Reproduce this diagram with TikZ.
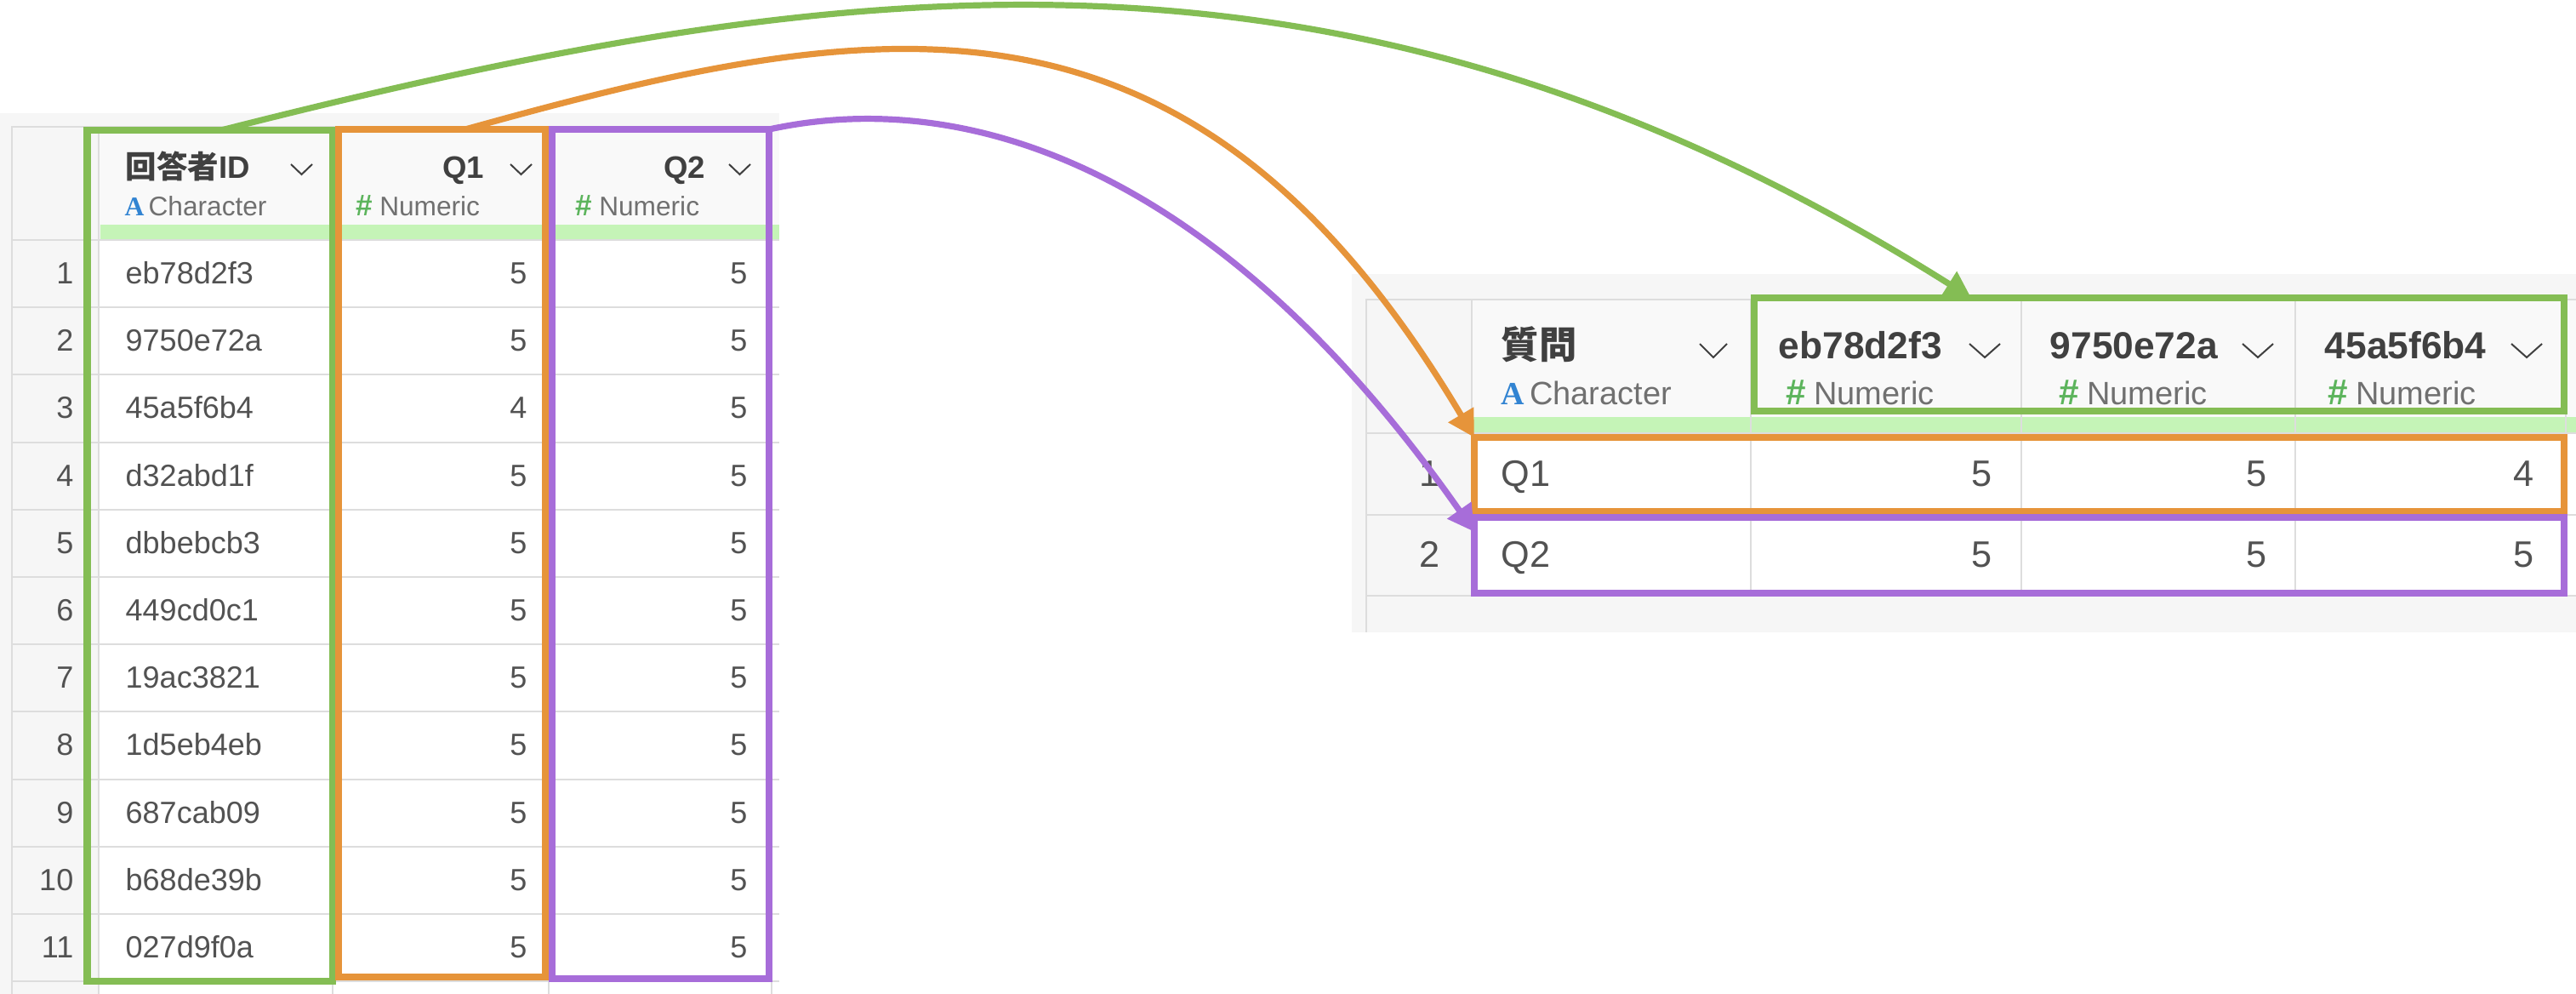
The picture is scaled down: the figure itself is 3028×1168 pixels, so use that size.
\documentclass[tikz,border=0pt]{standalone}
\usepackage{fontspec}
\setmainfont{Liberation Sans}
\newfontfamily\cjk{Noto Sans CJK JP}
\newfontfamily\aserif{Liberation Serif}
\usetikzlibrary{arrows.meta,calc}
\definecolor{gline}{RGB}{132,189,84}
\definecolor{oline}{RGB}{230,148,58}
\definecolor{pline}{RGB}{167,109,217}
\definecolor{stripc}{RGB}{197,244,183}
\definecolor{gridc}{RGB}{221,221,221}
\definecolor{panelc}{RGB}{246,246,246}
\definecolor{hdrc}{RGB}{249,249,249}
\definecolor{txtc}{RGB}{82,82,82}
\definecolor{htxtc}{RGB}{64,64,64}
\definecolor{ttxtc}{RGB}{112,112,112}
\definecolor{ablue}{RGB}{50,132,210}
\definecolor{hgreen}{RGB}{92,180,92}
\newcommand\hashmark{{\color{hgreen}\bfseries\#}}
\newcommand\amark{{\color{ablue}\aserif\bfseries A}}
\begin{document}
\begin{tikzpicture}[x=0.01cm,y=-0.01cm,
  gridline/.style={draw=gridc,line width=0.02cm},
  colbox/.style={draw,line width=0.08cm,inner sep=0pt,outer sep=0pt,anchor=north west},
  conn/.style={line width=0.072cm,-{Triangle[length=0.31cm,width=0.33cm]}},
  chev/.style={draw=htxtc,line width=0.02cm,line join=miter},
  ldata/.style={inner sep=0pt,text=txtc,font=\fontsize{10.24pt}{12pt}\selectfont},
  lhdr/.style={inner sep=0pt,text=htxtc,font=\bfseries\fontsize{10.4pt}{12pt}\selectfont},
  ltype/.style={inner sep=0pt,text=ttxtc,font=\fontsize{9pt}{10pt}\selectfont},
  rdata/.style={inner sep=0pt,text=txtc,font=\fontsize{12.3pt}{14pt}\selectfont},
  rhdr/.style={inner sep=0pt,text=htxtc,font=\bfseries\fontsize{12.6pt}{14pt}\selectfont},
  rtype/.style={inner sep=0pt,text=ttxtc,font=\fontsize{10.8pt}{12pt}\selectfont}]
\useasboundingbox (0,0) rectangle (3028,1168);
% ---------- left table ----------
\fill[panelc] (0,133) rectangle (916,1168);
\fill[hdrc] (116,149) rectangle (916,264);
\fill[stripc] (118,264) rectangle (916,281);
\fill[white] (116,282) rectangle (916,1168);
\draw[gridline] (14,1168) -- (14,149) -- (916,149);
\foreach \xx in {116,391,645,907} \draw[gridline] (\xx,149) -- (\xx,1168);
\foreach \k in {0,...,11} \draw[gridline] (14,{282+\k*79.2}) -- (916,{282+\k*79.2});
\node[lhdr,anchor=base west] (lh1) at (147,210) {{\cjk 回答者}ID};
\node[lhdr,anchor=base east] (lh2) at (570,210) {Q1};
\node[lhdr,anchor=base east] (lh3) at (830,210) {Q2};
\draw[chev] (342,193) -- (354.5,205) -- (367,193);
\draw[chev] (600,193) -- (612.5,205) -- (625,193);
\draw[chev] (857,193) -- (869.5,205) -- (882,193);
\node[ltype,anchor=base west] (lt1) at (146,254) {\amark\hspace{0.05cm}Character};
\node[ltype,anchor=base west] (lt2) at (418,254) {{\fontsize{10pt}{10pt}\selectfont\hashmark}\hspace{0.08cm}Numeric};
\node[ltype,anchor=base west] (lt3) at (676,254) {{\fontsize{10pt}{10pt}\selectfont\hashmark}\hspace{0.08cm}Numeric};
\foreach \i/\id/\va/\vb in {1/eb78d2f3/5/5,2/9750e72a/5/5,3/45a5f6b4/4/5,4/d32abd1f/5/5,5/dbbebcb3/5/5,6/449cd0c1/5/5,7/19ac3821/5/5,8/1d5eb4eb/5/5,9/687cab09/5/5,10/b68de39b/5/5,11/027d9f0a/5/5}{
  \node[ldata,anchor=base east] (lr\i) at (87,{282+(\i-0.5)*79.2+12}) {\i};
  \node[ldata,anchor=base west] (lid\i) at (147,{282+(\i-0.5)*79.2+12}) {\id};
  \node[ldata,anchor=base east] (lqa\i) at (620,{282+(\i-0.5)*79.2+12}) {\va};
  \node[ldata,anchor=base east] (lqb\i) at (879,{282+(\i-0.5)*79.2+12}) {\vb};
}
% ---------- right table ----------
\fill[panelc] (1589,322) rectangle (3028,743);
\fill[hdrc] (1730,352) rectangle (3028,490);
\fill[stripc] (1732,490) rectangle (3028,508);
\fill[white] (1730,509) rectangle (3028,700);
\draw[gridline] (1606,743) -- (1606,352) -- (3028,352);
\foreach \xx in {1730,2058,2376,2698,3016} \draw[gridline] (\xx,352) -- (\xx,700);
\foreach \yy in {509,605,700} \draw[gridline] (1606,\yy) -- (3028,\yy);
\node[rhdr,anchor=base west] (rh1) at (1764,422) {\cjk 質問};
\node[rhdr,anchor=base west] (rh2) at (2090,422) {eb78d2f3};
\node[rhdr,anchor=base west] (rh3) at (2409,422) {9750e72a};
\node[rhdr,anchor=base west] (rh4) at (2732,422) {45a5f6b4};
\draw[chev] (1998,404) -- (2014,420) -- (2030,404);
\draw[chev] (2315,404) -- (2333,420) -- (2351,404);
\draw[chev] (2636,404) -- (2654,420) -- (2672,404);
\draw[chev] (2952,404) -- (2970,420) -- (2988,404);
\node[rtype,anchor=base west] (rt1) at (1764,476) {\amark\hspace{0.06cm}Character};
\node[rtype,anchor=base west] (rt2) at (2099,476) {{\fontsize{12pt}{12pt}\selectfont\hashmark}\hspace{0.09cm}Numeric};
\node[rtype,anchor=base west] (rt3) at (2420,476) {{\fontsize{12pt}{12pt}\selectfont\hashmark}\hspace{0.09cm}Numeric};
\node[rtype,anchor=base west] (rt4) at (2736,476) {{\fontsize{12pt}{12pt}\selectfont\hashmark}\hspace{0.09cm}Numeric};
\foreach \i/\q/\va/\vb/\vc in {1/Q1/5/5/4,2/Q2/5/5/5}{
  \node[rdata,anchor=base east] (rr\i) at (1693,{477+\i*95}) {\i};
  \node[rdata,anchor=base west] (rq\i) at (1764,{477+\i*95}) {\q};
  \node[rdata,anchor=base east] (rva\i) at (2342,{477+\i*95}) {\va};
  \node[rdata,anchor=base east] (rvb\i) at (2665,{477+\i*95}) {\vb};
  \node[rdata,anchor=base east] (rvc\i) at (2979,{477+\i*95}) {\vc};
}
% ---------- highlight boxes ----------
\node[colbox,draw=gline,minimum width=2.885cm,minimum height=9.99cm] (gL) at (102.5,153) {};
\node[colbox,draw=oline,minimum width=2.43cm,minimum height=9.95cm] (oL) at (398,152) {};
\node[colbox,draw=pline,minimum width=2.55cm,minimum height=9.97cm] (pL) at (649,152) {};
\node[colbox,draw=gline,minimum width=9.51cm,minimum height=1.33cm] (gR) at (2062,350) {};
\node[colbox,draw=oline,minimum width=12.8cm,minimum height=0.87cm] (oR) at (1733,514) {};
\node[colbox,draw=pline,minimum width=12.8cm,minimum height=0.89cm] (pR) at (1733,608) {};
% ---------- connectors ----------
\draw[conn,draw=gline] ($(gL.north west)!0.546!(gL.north east)$) .. controls (997,-34) and (1588,-109) .. ($(gR.north west)!0.268!(gR.north east)$);
\draw[conn,draw=oline] ($(oL.north west)!0.613!(oL.north east)$) .. controls (1030,17.5) and (1398,-49) .. (oR.north west);
\draw[conn,draw=pline] (pL.north east) .. controls (1153.5,98) and (1446,215.5) .. ($(pR.north west)!0.19!(pR.south west)$);
\end{tikzpicture}
\end{document}
